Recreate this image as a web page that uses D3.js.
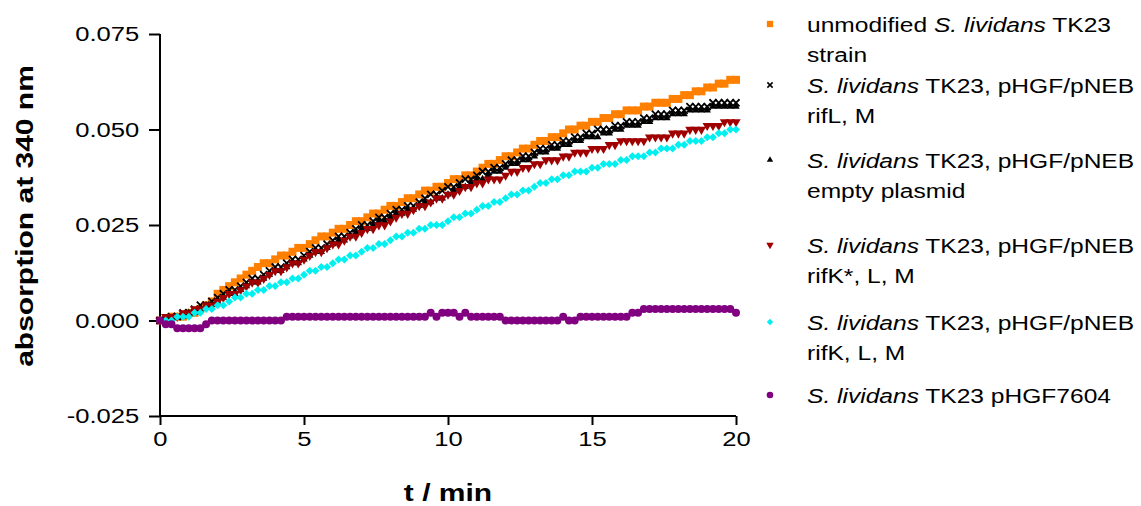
<!DOCTYPE html>
<html>
<head>
<meta charset="utf-8">
<script src="https://cdn.jsdelivr.net/npm/d3@7"></script>
<style>
  body { margin: 0; background: #fff; }
  text { font-family: 'Liberation Sans', Arial, sans-serif; }
</style>
</head>
<body>
<div id="chart"></div>
<script>
// time points (min)
var times = [0,0.2,0.4,0.6,0.8,1,1.2,1.4,1.6,1.8,2,2.2,2.4,2.6,2.8,3,3.2,3.4,3.6,3.8,
  4,4.2,4.4,4.6,4.8,5,5.2,5.4,5.6,5.8,6,6.2,6.4,6.6,6.8,7,7.2,7.4,7.6,7.8,
  8,8.2,8.4,8.6,8.8,9,9.2,9.4,9.6,9.8,10,10.2,10.4,10.6,10.8,11,11.2,11.4,11.6,11.8,
  12,12.2,12.4,12.6,12.8,13,13.2,13.4,13.6,13.8,14,14.2,14.4,14.6,14.8,15,15.2,15.4,15.6,15.8,
  16,16.2,16.4,16.6,16.8,17,17.2,17.4,17.6,17.8,18,18.2,18.4,18.6,18.8,19,19.2,19.4,19.6,19.8,20]

// absorption values in units of 0.001
var unmodified = [0,0,1,1,1, 2,2,3,4,5, 7,8,9,10,11, 12,13,14,15,15,
  16,17,17,18,19, 19,20,21,22,22, 23,24,24,25,26, 26,27,28,28,29,
  30,30,31,32,32, 33,34,34,35,35, 36,37,37,38,38, 39,40,41,41,42,
  43,43,44,45,45, 46,47,47,48,48, 49,50,50,51,51, 52,52,53,53,54,
  54,55,55,55,56, 56,57,57,57,58, 58,59,59,60,60, 61,61,62,62,63, 63]
var rifLM = [0,0,1,1,2, 2,3,4,4,5, 6,7,8,8,9, 10,11,11,12,13,
  14,14,15,16,16, 17,18,19,19,20, 21,22,22,23,24, 25,25,26,27,27,
  28,29,29,30,30, 31,32,33,33,34, 35,35,36,37,37, 38,39,39,40,40,
  41,42,42,43,43, 44,45,45,46,46, 47,47,48,48,49, 49,50,50,50,51,
  51,52,52,52,53, 53,54,54,54,55, 55,55,56,56,56, 56,57,57,57,57, 57]
var emptyPlasmid = [0,0,0,1,1, 2,2,3,4,4, 5,6,7,7,8, 9,10,10,11,12,
  13,13,14,15,15, 16,17,18,18,19, 20,21,21,22,23, 24,24,25,26,26,
  27,28,28,29,29, 30,31,31,32,32, 33,34,35,35,36, 37,37,38,39,39,
  40,41,41,42,42, 43,44,44,45,45, 46,46,47,47,48, 48,48,49,49,50,
  50,51,51,51,52, 52,53,53,53,54, 54,54,55,55,55, 55,56,56,56,56, 56]
var rifKstarLM = [0,1,1,1,2, 2,3,3,4,4, 5,6,7,7,8, 9,10,10,11,12,
  13,13,14,15,15, 16,17,18,18,19, 20,20,21,22,22, 23,24,24,25,25,
  26,27,28,28,29, 30,30,31,32,32, 33,33,34,35,35, 36,36,37,37,37,
  38,39,39,40,40, 41,41,42,42,42, 43,43,44,44,44, 45,45,45,46,46,
  47,47,47,47,47, 48,48,48,48,49, 49,49,50,50,50, 51,51,51,52,52, 52]
var rifKLM = [0,0,0,1,1, 1,2,2,3,3, 4,4,5,6,6, 7,7,8,8,9,
  9,10,10,11,11, 12,13,13,14,14, 15,16,16,17,17, 18,19,19,20,20,
  21,22,22,23,23, 24,24,25,25,25, 26,27,27,28,28, 29,30,30,31,31,
  32,33,33,34,34, 35,36,36,37,37, 38,38,39,39,39, 40,40,41,41,41,
  42,42,43,43,43, 44,44,45,45,45, 46,46,47,47,47, 48,48,49,49,50, 50]
var pHGF7604 = [0,-1,-1,-2,-2, -2,-2,-2,-1,0, 0,0,0,0,0, 0,0,0,0,0,
  0,0,1,1,1, 1,1,1,1,1, 1,1,1,1,1, 1,1,1,1,1,
  1,1,1,1,1, 1,1,2,1,2, 2,2,1,2,1, 1,1,1,1,1,
  0,0,0,0,0, 0,0,0,0,0, 1,0,0,1,1, 1,1,1,1,1,
  1,1,2,2,3, 3,3,3,3,3, 3,3,3,3,3, 3,3,3,3,3, 2]

var xTicks = [0, 5, 10, 15, 20]
var yTicks = [-0.025, 0, 0.025, 0.05, 0.075]

var seriesNames = [
  [['unmodified ', false], ['S. lividans', true], [' TK23', false]],
  [['S. lividans', true], [' TK23, pHGF/pNEB', false]],
  [['S. lividans', true], [' TK23, pHGF/pNEB', false]],
  [['S. lividans', true], [' TK23, pHGF/pNEB', false]],
  [['S. lividans', true], [' TK23, pHGF/pNEB', false]],
  [['S. lividans', true], [' TK23 pHGF7604', false]]
]
var seriesSecondLines = ['strain', 'rifL, M', 'empty plasmid', 'rifK*, L, M', 'rifK, L, M', null]
var seriesValues = [unmodified, rifLM, emptyPlasmid, rifKstarLM, rifKLM, pHGF7604]

// marker styles, same order as series
var styles = [
  {type: d3.symbolSquare, size: 64, legendSize: 40, fill: '#ff8000', rotate: 0},
  {type: d3.symbolTimes, size: 34, legendSize: 20, stroke: '#000', rotate: 0},
  {type: d3.symbolTriangle, size: 24, legendSize: 18, fill: '#000', rotate: 0},
  {type: d3.symbolTriangle, size: 38, legendSize: 24, fill: '#a00000', rotate: 180},
  {type: d3.symbolSquare, size: 32, legendSize: 20, fill: '#00f0f0', rotate: 45},
  {type: d3.symbolCircle, size: 50, legendSize: 34, fill: '#800080', rotate: 0}
]

var W = 1141, H = 506
var margin = {top: 34, left: 160}
var width = 576, height = 382
var stretch = 1.22
var legendStretch = 1.17

var svg = d3.select('#chart').append('svg')
  .attr('width', W)
  .attr('height', H)

var g = svg.append('g')
  .attr('transform', `translate(${margin.left}, ${margin.top})`)

var xScale = d3.scaleLinear().domain([0, 20]).range([0, width])
var yScale = d3.scaleLinear().domain([-0.025, 0.075]).range([height, 0])

function fmtY(d) {
  return d3.format('.3f')(d).replace('−', '-')
}

var yAxis = g.append('g')
  .call(d3.axisLeft(yScale).tickValues(yTicks).tickFormat(fmtY).tickSize(11).tickPadding(6))
var xAxis = g.append('g')
  .attr('transform', `translate(0, ${height})`)
  .call(d3.axisBottom(xScale).tickValues(xTicks).tickFormat(d3.format('d')).tickSize(9).tickPadding(6))

;[xAxis, yAxis].forEach(function (ax) {
  ax.select('.domain').attr('stroke', '#000').attr('stroke-width', 2)
  ax.selectAll('.tick line').attr('stroke', '#000').attr('stroke-width', 2)
  ax.selectAll('.tick text')
    .attr('fill', '#000')
    .style('font-size', '21px')
    .style('font-family', "'Liberation Sans', Arial, sans-serif")
})
// domain lines without outer ticks
yAxis.select('.domain').attr('d', `M0,${height}V0`)
xAxis.select('.domain').attr('d', `M0,0H${width}`)
yAxis.selectAll('.tick text').attr('transform', `scale(${stretch},1)`)
xAxis.selectAll('.tick text').attr('transform', `scale(${stretch},1)`)

// series markers
seriesValues.forEach(function (vals, k) {
  var st = styles[k]
  var sym = d3.symbol().type(st.type).size(st.size)
  var pts = g.append('g').selectAll('path')
    .data(vals)
    .enter().append('path')
    .attr('d', sym)
    .attr('transform', (d, i) => `translate(${xScale(times[i])}, ${yScale(d / 1000)}) rotate(${st.rotate})`)
  if (st.stroke) {
    pts.attr('fill', 'none').attr('stroke', st.stroke).attr('stroke-width', 1.8)
  } else {
    pts.attr('fill', st.fill)
  }
})

// axis titles
svg.append('text')
  .attr('transform', `translate(33, 216) rotate(-90) scale(1.25,1)`)
  .attr('text-anchor', 'middle')
  .style('font-size', '24px')
  .style('font-weight', 'bold')
  .text('absorption at 340 nm')

svg.append('text')
  .attr('transform', `translate(448, 501) scale(1.25,1)`)
  .attr('text-anchor', 'middle')
  .style('font-size', '24px')
  .style('font-weight', 'bold')
  .text('t / min')

// legend
var legendBase = [32, 93, 168, 253, 330, 403]
var legend = svg.append('g')
seriesNames.forEach(function (parts, k) {
  var st = styles[k]
  var y0 = legendBase[k]
  var m = legend.append('path')
    .attr('d', d3.symbol().type(st.type).size(st.legendSize))
    .attr('transform', `translate(770, ${y0 - 8}) rotate(${st.rotate})`)
  if (st.stroke) {
    m.attr('fill', 'none').attr('stroke', st.stroke).attr('stroke-width', 1.5)
  } else {
    m.attr('fill', st.fill)
  }
  var t = legend.append('text')
    .attr('transform', `translate(807, ${y0}) scale(${legendStretch},1)`)
    .style('font-size', '21px')
  parts.forEach(function (p) {
    t.append('tspan').style('font-style', p[1] ? 'italic' : 'normal').text(p[0])
  })
  if (seriesSecondLines[k]) {
    legend.append('text')
      .attr('transform', `translate(807, ${y0 + 30}) scale(${legendStretch},1)`)
      .style('font-size', '21px')
      .text(seriesSecondLines[k])
  }
})
</script>
</body>
</html>
